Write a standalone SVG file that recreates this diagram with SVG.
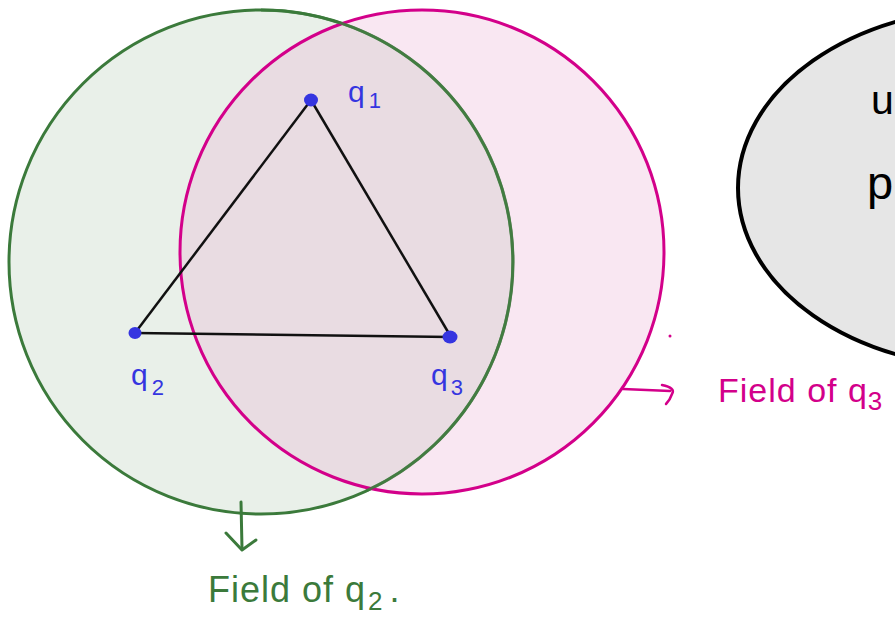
<svg xmlns="http://www.w3.org/2000/svg" width="895" height="629" viewBox="0 0 895 629">
<style>
.hand{font-family:"Liberation Sans","DejaVu Sans",sans-serif;}
.qlab{fill:#3535e0;font-size:30px;}
.sub{font-size:22px;}
.green{fill:#3b7a3b;}
.pink{fill:#d3008a;}
.dot{fill:#3535e0;}
</style>
<rect width="895" height="629" fill="#ffffff"/>
<g id="field-q3-region">
<ellipse cx="994" cy="188" rx="256" ry="180" fill="#e6e6e6" stroke="#000" stroke-width="4"/>
<text class="hand" x="871" y="114" font-size="41" fill="#000">u</text>
<text class="hand" x="867" y="199" font-size="47" fill="#000">p</text>
</g>
<g id="field-q2">
<circle cx="261" cy="262" r="252" fill="#e9f0e9" stroke="#3b7a3b" stroke-width="3"/>
</g>
<g id="field-q3">
<circle cx="422" cy="252" r="242" fill="#e9a8cf" fill-opacity="0.28" stroke="#d3008a" stroke-width="3"/>
</g>
<g id="green-edge-overlay">
<path d="M 261 10 A 252 252 0 0 1 366 491" fill="none" stroke="#3b7a3b" stroke-width="3" stroke-opacity="0.85"/>
</g>
<g id="connectors">
<line x1="311" y1="100" x2="135" y2="333" stroke="#111" stroke-width="2.5"/>
<line x1="311" y1="100" x2="451" y2="337" stroke="#111" stroke-width="2.5"/>
<line x1="135" y1="333" x2="451" y2="337" stroke="#111" stroke-width="2.5"/>
<path d="M 623 389 L 670 391" fill="none" stroke="#d3008a" stroke-width="2.5" stroke-linecap="round"/>
<path d="M 662 385 Q 676 388 672 394 Q 670 400 666 404" fill="none" stroke="#d3008a" stroke-width="2.5" stroke-linecap="round"/>
<path d="M 241 502 L 242 548" fill="none" stroke="#3b7a3b" stroke-width="3" stroke-linecap="round"/>
<path d="M 226 533 L 242 550 L 256 540" fill="none" stroke="#3b7a3b" stroke-width="3" stroke-linecap="round" stroke-linejoin="round"/>
</g>
<g id="q1">
<ellipse cx="311" cy="100" rx="7" ry="6.5" class="dot"/>
<text class="hand qlab" x="348" y="102">q<tspan class="sub" dy="6" dx="4">1</tspan></text>
</g>
<g id="q2">
<ellipse cx="135" cy="333" rx="6.5" ry="6" class="dot"/>
<text class="hand qlab" x="131" y="385">q<tspan class="sub" dy="10" dx="4">2</tspan></text>
</g>
<g id="q3">
<ellipse cx="450" cy="337" rx="7.5" ry="6.5" class="dot"/>
<text class="hand qlab" x="431" y="385">q<tspan class="sub" dy="10" dx="3">3</tspan></text>
</g>
<circle cx="670" cy="336" r="1.5" fill="#d3008a"/>
<g id="label-field-q3">
<text class="hand pink" x="718" y="402" font-size="34" letter-spacing="1">Field  of q<tspan font-size="26" dy="8">3</tspan></text>
</g>
<g id="label-field-q2">
<text class="hand green" x="208" y="602" font-size="36" letter-spacing="1">Field  of q<tspan font-size="26" dy="8" dx="2">2</tspan><tspan dy="-8" dx="6">.</tspan></text>
</g>
</svg>
